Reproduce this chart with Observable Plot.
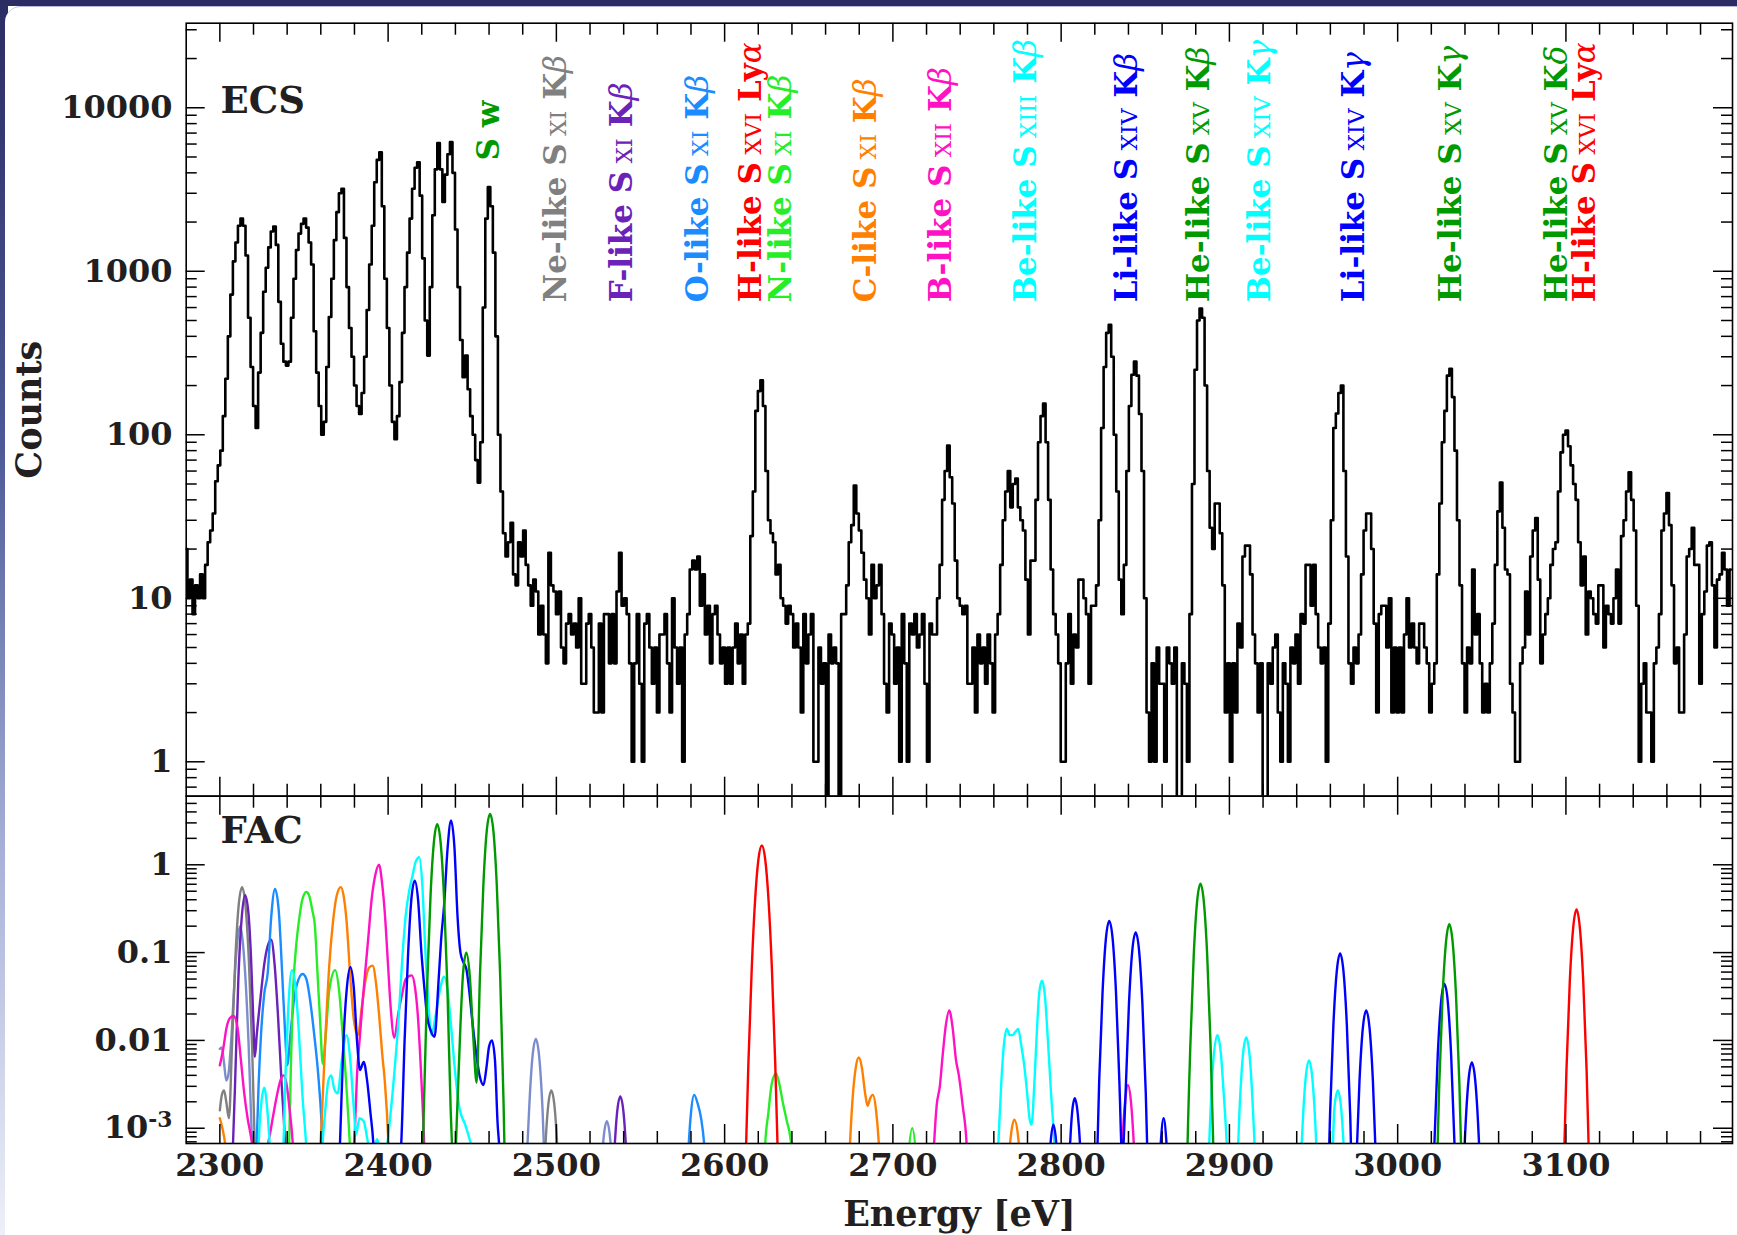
<!DOCTYPE html>
<html><head><meta charset="utf-8">
<script src="https://cdn.jsdelivr.net/npm/d3@7"></script>
<script src="https://cdn.jsdelivr.net/npm/@observablehq/plot@0.6"></script>
<style>
html,body{margin:0;padding:0;width:1737px;height:1235px;overflow:hidden;background:#fff;}
#bgTop{position:absolute;left:0;top:0;width:1737px;height:6px;background:#2b2c63;}
#bgLeft{position:absolute;left:0;top:0;width:8px;height:1235px;background:linear-gradient(#2b2c63,#4b5796 35%,#a9b3da 70%,#eef0f8);}
#panel{position:absolute;left:5px;top:6px;width:1732px;height:1229px;background:#fff;border-top-left-radius:16px;border-top:1px solid #b8bbdc;}
#top{position:absolute;left:0;top:0;}
#bot{position:absolute;left:0;top:780px;}
</style></head>
<body>
<div id="bgTop"></div><div id="bgLeft"></div><div id="panel"></div>
<div id="top"></div><div id="bot"></div>
<script>
// ---------------- data ----------------
// ECS spectrum: counts per 1.5 eV bin, first bin at 2280 eV
const ecsStart = 2280, ecsBin = 1.5;
const ecsCounts = [
20,10,13,8,12,10,14,10,16,22,26,33,52,
65,80,130,220,400,720,1150,1500,1900,2100,1900,1250,520,260,150,110,240,420,750,1050,
1400,1750,1880,1450,650,360,280,265,280,520,900,1350,1700,1950,2100,1850,1500,1100,430,240,
150,100,120,260,525,900,1550,2300,3000,3200,1600,800,450,300,200,150,134,180,300,580,
1100,1900,3500,4800,5350,2500,900,450,200,120,94,130,210,420,800,1300,2100,3200,4300,4640,
2900,1200,500,305,800,2200,4200,6080,4200,2650,3900,5200,6160,4000,1800,800,380,225,305,190,
130,100,70,51,90,600,2100,3270,2500,1300,400,100,45,25,
18,22,29,14,12,22,18,26,16,12,9,13,11,6,9,6,4,19,12,11,8,11,5,4,7,8,6,7,5,10,3,3,7,8,5,2,2,7,2,8,
8,4,8,4,11,19,9,10,8,4,1,4,8,3,1,7,8,5,3,5,2,6,6,8,4,2,10,5,3,5,1,6,8,15,17,15,18,
9,14,6,9,4,8,9,6,4,5,3,5,3,5,7,4,6,3,6,7,
24,45,140,185,215,150,60,30,25,22,14,16,10,9,7,9,8,5,7,5,2,8,4,6,8,1,1,5,3,4,0,6,4,5,4,0,8,
8,12,22,28,49,33,26,19,13,10,6,16,10,12,16,8,3,2,7,6,3,5,1,8,4,1,7,6,8,5,6,8,3,1,7,6,6,10,16,40,
60,86,55,38,17,10,9,8,9,3,3,5,2,6,4,5,3,6,4,2,6,8,16,30,45,60,36,50,54,36,30,26,13,6,17,17,40,90,130,155,
90,40,15,8,6,4,1,1,4,8,3,6,5,13,13,10,8,3,9,9,12,30,110,260,420,470,300,100,45,13,8,16,60,150,233,280,230,134,60,10,
2,1,4,1,5,3,3,1,5,4,3,5,0,0,4,3,1,8,50,250,500,592,520,200,60,27,20,38,38,25,12,2,4,1,4,2,7,5,18,21,21,14,6,4,2,4,0,0,4,3,5,6,2,
1,4,3,1,5,4,6,3,8,7,16,16,9,16,8,5,4,5,1,7,30,110,135,180,200,60,18,4,3,5,4,6,14,26,33,33,20,7,2,8,9,9,5,10,2,5,2,
5,2,6,10,5,7,5,4,7,7,5,4,2,3,4,14,38,90,140,230,253,170,80,30,12,4,2,5,4,15,6,8,4,2,3,2,4,7,16,34,51,27,15,14,3,2,1,1,4,5,
11,6,18,26,31,13,4,6,8,10,16,20,22,45,78,100,106,85,65,50,40,22,12,18,6,11,10,8,7,12,12,5,9,8,7,10,15,7,24,30,45,59,40,26,9,1,3,4,2,2,
1,4,5,8,26,33,44,28,12,4,5,2,2,6,18,20,27,16,16,3,8,11,21,22,12,5,13,14,19,15,9,15
];

// FAC theoretical curves: [energy eV, intensity]
const facNa = [[2300,8e-3],[2301.2,8.3e-3],[2302.5,5.5e-3],[2303.8,3.5e-3],[2305,4e-3],[2307,0.012],[2309,0.06],[2310.5,0.14],[2312,0.2],[2313.5,0.14],[2315,0.06],[2317,0.01],[2319,8e-4],[2321,3e-5],[2480,1e-6],[2481.8,1.5e-4],[2483.8,1.6e-3],[2485.8,6.5e-3],[2487.8,0.0104],[2489.8,6.5e-3],[2491.8,1.6e-3],[2493.8,1.5e-4],[2496,5e-6],[2524,5e-6],[2526,1.8e-4],[2528,7.5e-4],[2530,1.2e-3],[2532,7.5e-4],[2534,1.8e-4],[2536,5e-6]];
const facNe = [[2300,1.6e-3],[2301.2,2.4e-3],[2302.5,2.7e-3],[2303.8,2e-3],[2305.4,1.3e-3],[2307.2,8.5e-3],[2309.2,0.085],[2311.2,0.348],[2313.2,0.557],[2315.2,0.348],[2317.2,0.085],[2319.2,8.1e-3],[2321.2,3e-4],[2323.2,4e-6],[2489,2e-6],[2491,3.9e-5],[2493,4.1e-4],[2495,1.7e-3],[2497,2.7e-3],[2499,1.7e-3],[2501,4.1e-4],[2503,3.9e-5],[2505,2e-6]];
const facF = [[2300,1e-6],[2305,2e-5],[2307,2.4e-4],[2309,3e-3],[2311,0.05],[2313,0.25],[2315,0.45],[2317,0.28],[2318.5,0.09],[2320,0.015],[2320.8,6.5e-3],[2322,0.012],[2324.2,0.031],[2326.4,0.074],[2328.5,0.12],[2330.5,0.14],[2332.5,0.075],[2334.5,0.02],[2336.6,3.5e-3],[2339,5e-4],[2341,2e-5],[2530,1e-6],[2532,3.4e-5],[2534,3.5e-4],[2536,1.45e-3],[2538,2.3e-3],[2540,1.45e-3],[2542,3.5e-4],[2544,3.4e-5]];
const facO = [[2319,1e-5],[2321.9,6.7e-4],[2323,3e-3],[2324.5,0.012],[2326.4,0.034],[2328.5,0.06],[2330.5,0.25],[2332.8,0.53],[2335,0.3],[2337,0.06],[2339,0.01],[2340,5.2e-3],[2342,0.012],[2344,0.028],[2346,0.045],[2349.2,0.057],[2351.4,0.05],[2353.5,0.03],[2356,0.012],[2358.5,4e-3],[2360.5,1.1e-3],[2362.5,1e-4],[2364,1e-5],[2574,1e-6],[2576,3.5e-5],[2578,3.7e-4],[2580,1.5e-3],[2581.9,2.4e-3],[2584,1.9e-3],[2586,1.3e-3],[2588,6e-4],[2590,1e-4],[2592,1e-5]];
const facN = [[2338,1e-5],[2340,1e-4],[2341.2,6.7e-4],[2342.3,6e-3],[2343.5,0.037],[2345,0.1],[2347,0.23],[2349,0.4],[2351.4,0.49],[2353,0.45],[2355,0.3],[2356.5,0.2],[2358,0.06],[2359.5,0.018],[2361.2,5.4e-3],[2363,0.012],[2365,0.037],[2368.5,0.063],[2371,0.035],[2373,0.0115],[2375,3.5e-3],[2376.5,1.2e-3],[2378,3e-4],[2380,1e-5],[2620,1e-6],[2622,2e-5],[2624,6e-4],[2626,1.5e-3],[2628,3.2e-3],[2630.5,4.2e-3],[2632.5,3.2e-3],[2634.5,2e-3],[2637,1.2e-3],[2639,8e-4],[2641,3e-4],[2643,1e-5],[2705,1e-6],[2707,6e-5],[2709,4e-4],[2711.5,1e-3],[2714,4e-4],[2716,6e-5],[2718,1e-6]];
const facC = [[2300,1.3e-3],[2301.5,1e-3],[2303,7e-4],[2305,3e-4],[2307,5e-5],[2309,1e-6],[2356,1e-6],[2358,1e-4],[2360.5,1.2e-3],[2362.8,0.0115],[2365,0.07],[2367.3,0.23],[2369.5,0.45],[2371.9,0.557],[2373.5,0.45],[2375.3,0.23],[2377.6,0.05],[2379.5,0.018],[2382,0.0115],[2384.5,0.025],[2386.7,0.05],[2388.8,0.068],[2390.8,0.071],[2392.8,0.045],[2394.6,0.02],[2396.5,7e-3],[2398,3.5e-3],[2400.3,6e-4],[2402,5e-5],[2404,1e-6],[2670,1e-6],[2672,3e-5],[2674,4e-4],[2676,2.1e-3],[2678,5e-3],[2679.7,6.4e-3],[2681.5,5e-3],[2683.5,2.5e-3],[2685,1.8e-3],[2686.5,2.2e-3],[2688.1,2.4e-3],[2690,1.6e-3],[2692,5e-4],[2694,4e-5],[2696,1e-6],[2766,1e-6],[2768,2e-4],[2770,7.8e-4],[2772.2,1.25e-3],[2774.5,7.8e-4],[2776.5,2e-4],[2778,2e-5]];
const facB = [[2300,5.2e-3],[2302,8e-3],[2304,0.014],[2306,0.018],[2308.2,0.019],[2310.5,0.014],[2312.5,6e-3],[2314.5,2.5e-3],[2316.5,1.3e-3],[2318.5,8e-4],[2320,5e-4],[2322,1e-4],[2325,1e-5],[2328,5e-4],[2330,9e-4],[2332,1.5e-3],[2334,2.4e-3],[2336,3.5e-3],[2337.8,4e-3],[2339.5,3.3e-3],[2341.5,1.6e-3],[2343.5,6e-4],[2345.5,8e-5],[2348,1e-6],[2376,1e-6],[2378,1e-4],[2380,7e-4],[2381.5,4e-3],[2383.3,0.0115],[2385,0.03],[2386.7,0.07],[2388.5,0.17],[2390,0.37],[2392.3,0.75],[2394.6,1.0],[2396.5,0.6],[2398,0.29],[2400,0.07],[2401.5,0.024],[2403.7,0.0107],[2406,0.02],[2408.5,0.035],[2410.5,0.05],[2414,0.055],[2416,0.04],[2417.6,0.02],[2419.8,3.5e-3],[2421.5,6e-4],[2423,5e-5],[2425,1e-6],[2720,1e-6],[2722,5e-5],[2724.5,6.7e-4],[2726,1.8e-3],[2727.9,3e-3],[2729.5,6.5e-3],[2731.5,0.015],[2733.5,0.022],[2735.5,0.014],[2737.5,6e-3],[2739.2,4e-3],[2741.5,1.8e-3],[2743.8,6.7e-4],[2746,5e-5],[2748,1e-6],[2832,1e-6],[2834,5e-5],[2836,5e-4],[2838,2e-3],[2839.7,3.1e-3],[2841.5,2e-3],[2843.5,5e-4],[2845.5,5e-5],[2847,1e-6]];
const facBe = [[2321,1e-5],[2323,6e-4],[2324.5,1.8e-3],[2326.4,2.9e-3],[2328,1.8e-3],[2330,5e-4],[2332,1e-4],[2335,2e-4],[2337.8,6.7e-4],[2339,4e-3],[2340.5,0.02],[2342.8,0.063],[2345,0.04],[2347,0.012],[2349,2.5e-3],[2351.4,6e-4],[2353.5,1e-4],[2357,1e-4],[2360,4e-4],[2362.5,1.5e-3],[2364.5,3.5e-3],[2366.2,4e-3],[2368,2.8e-3],[2370,2.5e-3],[2372.5,6e-3],[2375.3,0.0115],[2377.5,6e-3],[2379.5,1.8e-3],[2381,8.6e-4],[2383,1.3e-3],[2385.5,1.2e-3],[2388,7e-4],[2390.5,5e-4],[2393.5,7.5e-4],[2396,5e-4],[2399,6e-4],[2401.5,1.5e-3],[2404,5e-3],[2406,0.015],[2408.5,0.09],[2410.5,0.27],[2412.5,0.5],[2414.5,0.75],[2416.5,1.1],[2418.5,1.22],[2420.3,0.6],[2422,0.12],[2424,0.025],[2425.8,0.0116],[2428,0.018],[2430.5,0.035],[2433.3,0.053],[2435.5,0.035],[2437.8,0.012],[2440,4e-3],[2442.4,1.7e-3],[2445.8,1.1e-3],[2448,8e-4],[2450.3,5e-4],[2452,1e-4],[2455,1e-6],[2758,1e-6],[2760,5e-5],[2762.7,6.7e-4],[2764.5,3.5e-3],[2766,9e-3],[2767.7,0.0135],[2769.5,0.0115],[2771,0.0115],[2772.8,0.0125],[2774.5,0.0135],[2776.2,9e-3],[2777.9,5.5e-3],[2779.8,2.5e-3],[2781.2,1.3e-3],[2782.4,1.1e-3],[2784,3e-3],[2785.5,0.012],[2787,0.035],[2788.6,0.048],[2790.3,0.033],[2792,0.011],[2794,2.5e-3],[2796,6.7e-4],[2798,1e-4],[2800,1e-6],[2884,1e-6],[2886,5e-5],[2888,6.7e-4],[2890,4.5e-3],[2892.8,0.0115],[2894.8,7.5e-3],[2896.6,2.5e-3],[2898.4,6.7e-4],[2900.5,5e-5],[2902,1e-5],[2904,1.6e-4],[2906,1.6e-3],[2908,6.7e-3],[2910,0.0108],[2912,6.7e-3],[2914,1.6e-3],[2916,1.6e-4],[2918,1e-6],[2939,1e-6],[2941.3,8.6e-5],[2943.3,9e-4],[2945.3,3.7e-3],[2947.3,5.9e-3],[2949.3,3.7e-3],[2951.3,9e-4],[2953.3,8.6e-5],[2955.5,1e-6],[2957.5,1e-6],[2959.5,8e-5],[2961.3,5e-4],[2962.4,1.7e-3],[2964.4,2.7e-3],[2966.4,1.7e-3],[2968.4,4e-4],[2970.4,4e-5],[2972,1e-6]];
const facLi = [[2367,1e-6],[2369,5e-5],[2371.4,6.7e-4],[2373.5,0.01],[2375.5,0.04],[2377.6,0.068],[2379.6,0.04],[2381.5,0.01],[2383.3,4.6e-3],[2385.5,5.7e-3],[2387.5,3.5e-3],[2389.5,1.5e-3],[2391.2,6.7e-4],[2393,1e-4],[2396,1e-5],[2404,1e-4],[2406,3e-4],[2407.8,6.7e-4],[2409.8,0.01],[2411.8,0.09],[2413.8,0.4],[2415.8,0.66],[2417.8,0.4],[2419.8,0.1],[2421.8,0.035],[2423,0.02],[2425.3,0.013],[2427.6,0.011],[2429.9,0.045],[2431.5,0.14],[2433.3,0.35],[2435.3,1.5],[2437.4,3.2],[2439.4,1.6],[2441.3,0.25],[2443,0.1],[2444.7,0.078],[2446.5,0.065],[2448,0.04],[2450.3,0.015],[2452.6,6.5e-3],[2454.6,3.8e-3],[2456.7,3.1e-3],[2458.5,5e-3],[2460,8.5e-3],[2461.7,0.01],[2463.5,6e-3],[2465,1.2e-3],[2466.5,4e-4],[2468,2e-5],[2470,1e-6],[2789,1e-6],[2792,1e-4],[2793.5,6e-4],[2795.4,1.1e-3],[2797.3,6e-4],[2799,1e-4],[2801,1e-6],[2803,5e-5],[2805,5e-4],[2806.5,1.5e-3],[2808.1,2.2e-3],[2809.8,1.5e-3],[2811.5,5e-4],[2813,5e-5],[2816,1e-6],[2818.6,1e-6],[2820.6,1.2e-4],[2822.6,3.4e-3],[2824.6,0.035],[2826.6,0.144],[2828.6,0.23],[2830.6,0.144],[2832.6,0.035],[2834.6,3.4e-3],[2836.3,4.5e-4],[2838.3,2.5e-3],[2840.3,0.026],[2842.3,0.106],[2844.3,0.17],[2846.3,0.106],[2848.3,0.026],[2850.3,2.5e-3],[2852.3,9e-5],[2854.5,1e-6],[2857,1e-4],[2859,6e-4],[2860.9,1.3e-3],[2862.8,6e-4],[2864.8,1e-4],[2867,1e-6],[2955.8,1e-6],[2957.8,5.3e-5],[2959.8,1.4e-3],[2961.8,0.015],[2963.8,0.061],[2965.8,0.098],[2967.8,0.061],[2969.8,0.015],[2971.8,1.4e-3],[2973.8,5.3e-5],[2975.3,3.2e-4],[2977.3,3.4e-3],[2979.3,0.0138],[2981.3,0.022],[2983.3,0.0138],[2985.3,3.4e-3],[2987.3,3.2e-4],[2989.3,1.2e-5],[2991,1e-6],[3017.8,1e-6],[3019.8,2.4e-5],[3021.8,6.4e-4],[3023.8,6.7e-3],[3025.8,0.0275],[3027.8,0.044],[3029.8,0.0275],[3031.8,6.7e-3],[3033.8,6.4e-4],[3035.8,2.4e-5],[3038.1,8.2e-5],[3040.1,8.6e-4],[3042.1,3.5e-3],[3044.1,5.6e-3],[3046.1,3.5e-3],[3048.1,8.6e-4],[3050.1,8.2e-5],[3052,1e-6]];
const facHe = [[2419.5,5e-5],[2421.2,1.6e-3],[2423.2,0.042],[2425.2,0.44],[2427.2,1.8],[2429.2,2.9],[2431.2,1.8],[2433.2,0.44],[2435.2,0.042],[2437.2,1.6e-3],[2439.3,3e-4],[2441,1.5e-3],[2443,0.015],[2444.6,0.06],[2446.5,0.1],[2448.5,0.055],[2450.5,0.012],[2452.6,3.3e-3],[2454.6,0.055],[2456.6,0.58],[2458.6,2.4],[2460.6,3.8],[2462.6,2.4],[2464.6,0.58],[2466.6,0.055],[2468.6,2e-3],[2470.6,2.7e-5],[2473,1e-6],[2872.8,1e-6],[2874.8,3.3e-4],[2876.8,8.9e-3],[2878.8,0.093],[2880.8,0.38],[2882.8,0.61],[2884.8,0.38],[2886.8,0.093],[2888.8,8.9e-3],[2890.8,3.3e-4],[2893,1e-6],[3020.7,1e-6],[3022.7,1.1e-4],[3024.7,3.1e-3],[3026.7,0.032],[3028.7,0.13],[3030.7,0.21],[3032.7,0.13],[3034.7,0.032],[3036.7,3.1e-3],[3038.7,1.1e-4],[3041,1e-6]];
const facH = [[2610,1e-5],[2612.1,2.2e-4],[2614.1,5.3e-3],[2616.1,0.065],[2618.1,0.395],[2620.1,1.16],[2622.1,1.66],[2624.1,1.16],[2626.1,0.395],[2628.1,0.065],[2630.1,5.3e-3],[2632.1,2.2e-4],[2634,1e-5],[3096,1e-6],[3098.3,1.7e-4],[3100.3,4.5e-3],[3102.3,0.047],[3104.3,0.19],[3106.3,0.31],[3108.3,0.19],[3110.3,0.047],[3112.3,4.5e-3],[3114.3,1.7e-4],[3116.3,1e-6]];

// ion colours
const ionNames  = ["Na-like","Ne-like","F-like","O-like","N-like","C-like","B-like","Be-like","Li-like","He-like","H-like"];
const ionColors = ["#7b8dcd","#808080","#6a22b8","#1a8cff","#26ee26","#ff8000","#ff12c4","#00ffff","#0000ff","#009a00","#ff0000"];
const ionCurves = [facNa,facNe,facF,facO,facN,facC,facB,facBe,facLi,facHe,facH];

// line identification labels (energy of label column)
const lineLabels = ["Ne-like S XI Kβ","F-like S XI Kβ","O-like S XI Kβ","H-like S XVI Lyα","N-like S XI Kβ","C-like S XI Kβ","B-like S XII Kβ","Be-like S XIII Kβ","Li-like S XIV Kβ","He-like S XV Kβ","Be-like S XIV Kγ","Li-like S XIV Kγ","He-like S XV Kγ","He-like S XV Kδ","H-like S XVI Lyα"];
const lineLabelE = [2499.7,2539,2584,2616,2633.5,2684,2728.7,2779,2839,2882,2918.4,2974,3031.8,3094.6,3111.5];
const lineLabelIon = ["Ne-like","F-like","O-like","H-like","N-like","C-like","B-like","Be-like","Li-like","He-like","Be-like","Li-like","He-like","He-like","H-like"];
const wLabel = {text: "S w", E: 2460.2, ion: "He-like"};

const xTicks = [2300,2400,2500,2600,2700,2800,2900,3000,3100];
const yTicksTop = [1,10,100,1000,10000];
const yTicksBot = [1e-3,0.01,0.1,1];
const yTickLabelsBot = ["10-3","0.01","0.1","1"];

// ---------------- helpers ----------------
const colorOf = Object.fromEntries(ionNames.map((n,i)=>[n, ionColors[i]]));
const ecs = ecsCounts.map((c,i)=>({E: ecsStart + ecsBin*i, c}));
const facRows = ionCurves.flatMap((pts,k)=>pts.map(([E,v])=>({E, v, ion: ionNames[k], color: ionColors[k]})));
const labels = lineLabels.map((t,i)=>({t, E: lineLabelE[i], color: colorOf[lineLabelIon[i]]}));

const FONT = "DejaVu Serif";
const W = 1737, ML = 185.7, MR = 5;
const FW = W - ML - MR;
const xMinor = d3.range(2300, 3200, 20).filter(v => v % 100 !== 0);
function logMinor(lo, hi) {
  const out = [];
  for (let e = -5; e <= 5; e++) for (let k = 2; k <= 9; k++) { const v = k * Math.pow(10, e); if (v > lo && v < hi) out.push(+v.toPrecision(3)); }
  return out;
}
const TICK = {stroke: "black", strokeWidth: 1.5};
function frameTicks(FH, yMaj, yMin) {
  return [
    Plot.tickX(xTicks, {...TICK, insetBottom: FH - 19}),
    Plot.tickX(xTicks, {...TICK, insetTop: FH - 19}),
    Plot.tickX(xMinor, {...TICK, insetBottom: FH - 12}),
    Plot.tickX(xMinor, {...TICK, insetTop: FH - 12}),
    Plot.tickY(yMaj, {...TICK, insetRight: FW - 19}),
    Plot.tickY(yMaj, {...TICK, insetLeft: FW - 19}),
    Plot.tickY(yMin, {...TICK, insetRight: FW - 11}),
    Plot.tickY(yMin, {...TICK, insetLeft: FW - 11})
  ];
}

// ---------------- top panel (ECS) ----------------
const topH = 800, topMT = 22.7, topMB = 4.3;
const topDom = [0.616, 32900];
const topPlot = Plot.plot({
  width: W, height: topH, marginLeft: ML, marginRight: MR, marginTop: topMT, marginBottom: topMB,
  x: {domain: [2280, 3199], axis: null},
  y: {type: "log", domain: topDom, axis: null},
  color: {type: "identity"},
  style: {fontFamily: FONT, fontWeight: "bold", color: "#231f20", background: "transparent", overflow: "visible"},
  marks: [
    Plot.line(ecs, {x: "E", y: d => d.c > 0 ? d.c : 0.3, curve: "step", stroke: "black", strokeWidth: 2.6, clip: true}),
    ...frameTicks(topH - topMT - topMB, yTicksTop, logMinor(topDom[0], topDom[1])),
    Plot.axisY({anchor: "left", ticks: yTicksTop, tickSize: 0, tickPadding: 13.7, tickFormat: d => String(d), fontSize: 32, label: null}),
    Plot.frame({stroke: "black", strokeWidth: 1.6}),
    Plot.text(["Counts"], {frameAnchor: "left", dx: -156, rotate: -90, textAnchor: "middle", lineAnchor: "middle", fontSize: 35, fill: "#231f20"}),
    Plot.text(["ECS"], {frameAnchor: "top-left", dx: 34.3, dy: 64, textAnchor: "start", lineAnchor: "top", fontSize: 37, fill: "#231f20"}),
    Plot.text(labels, {x: "E", y: () => 647, text: "t", fill: "color", rotate: -90, textAnchor: "start", lineAnchor: "middle", fontSize: 31}),
    Plot.text([wLabel], {x: "E", y: () => 4760, text: "text", fill: d => colorOf[d.ion], rotate: -90, textAnchor: "start", lineAnchor: "middle", fontSize: 31})
  ]
});
document.getElementById("top").appendChild(topPlot);

// rich text for the line labels: small-caps ionisation stage, italic Greek
const labelSet = new Set(lineLabels);
d3.select(topPlot).selectAll("text").each(function() {
  const s = this.textContent;
  if (!labelSet.has(s)) return;
  const el = d3.select(this).style("white-space", "pre").text(null);
  s.split(" ").forEach((w, k) => {
    const pre = k ? " " : "";
    if (/^[XVI]+$/.test(w)) {
      el.append("tspan").attr("font-size", "0.74em").attr("font-weight", "normal").text(pre + w);
    } else {
      const m = w.match(/^(K|Ly)([α-ω])$/);
      if (m) {
        el.append("tspan").text(pre + m[1]);
        el.append("tspan").attr("font-style", "italic").attr("font-weight", "normal").text(m[2]);
      } else el.append("tspan").text(pre + w);
    }
  });
});

// ---------------- bottom panel (FAC) ----------------
const botH = 455, botMT = 15.7, botMB = 92;
const botDom = [6.7e-4, 6.04];
const botPlot = Plot.plot({
  width: W, height: botH, marginLeft: ML, marginRight: MR, marginTop: botMT, marginBottom: botMB,
  x: {domain: [2280, 3199], axis: null},
  y: {type: "log", domain: botDom, axis: null},
  color: {type: "identity"},
  style: {fontFamily: FONT, fontWeight: "bold", color: "#231f20", background: "transparent", overflow: "visible"},
  marks: [
    Plot.line(facRows, {x: "E", y: "v", z: "ion", stroke: "color", strokeWidth: 2.4, curve: "monotone-x", clip: true}),
    ...frameTicks(botH - botMT - botMB, yTicksBot, logMinor(botDom[0], 5.5)),
    Plot.axisY({anchor: "left", ticks: yTicksBot, tickSize: 0, tickPadding: 13.7, tickFormat: d => yTickLabelsBot[yTicksBot.indexOf(d)], fontSize: 32, label: null}),
    Plot.axisX({anchor: "bottom", ticks: xTicks, tickSize: 0, tickPadding: 10, tickFormat: d => String(d), fontSize: 32, label: null}),
    Plot.frame({stroke: "black", strokeWidth: 1.6}),
    Plot.text(["FAC"], {frameAnchor: "top-left", dx: 34.3, dy: 21, textAnchor: "start", lineAnchor: "top", fontSize: 37, fill: "#231f20"}),
    Plot.text(["Energy [eV]"], {frameAnchor: "bottom", dy: 70.8, textAnchor: "middle", lineAnchor: "middle", fontSize: 35, fill: "#231f20"})
  ]
});
document.getElementById("bot").appendChild(botPlot);

// power-of-ten tick label: "10" with raised "-3"
d3.select(botPlot).selectAll("text").each(function() {
  if (this.textContent !== "10-3") return;
  const el = d3.select(this).text(null);
  el.append("tspan").text("10");
  el.append("tspan").attr("font-size", "0.68em").attr("dy", "-0.55em").text("-3");
});
</script>
</body></html>
